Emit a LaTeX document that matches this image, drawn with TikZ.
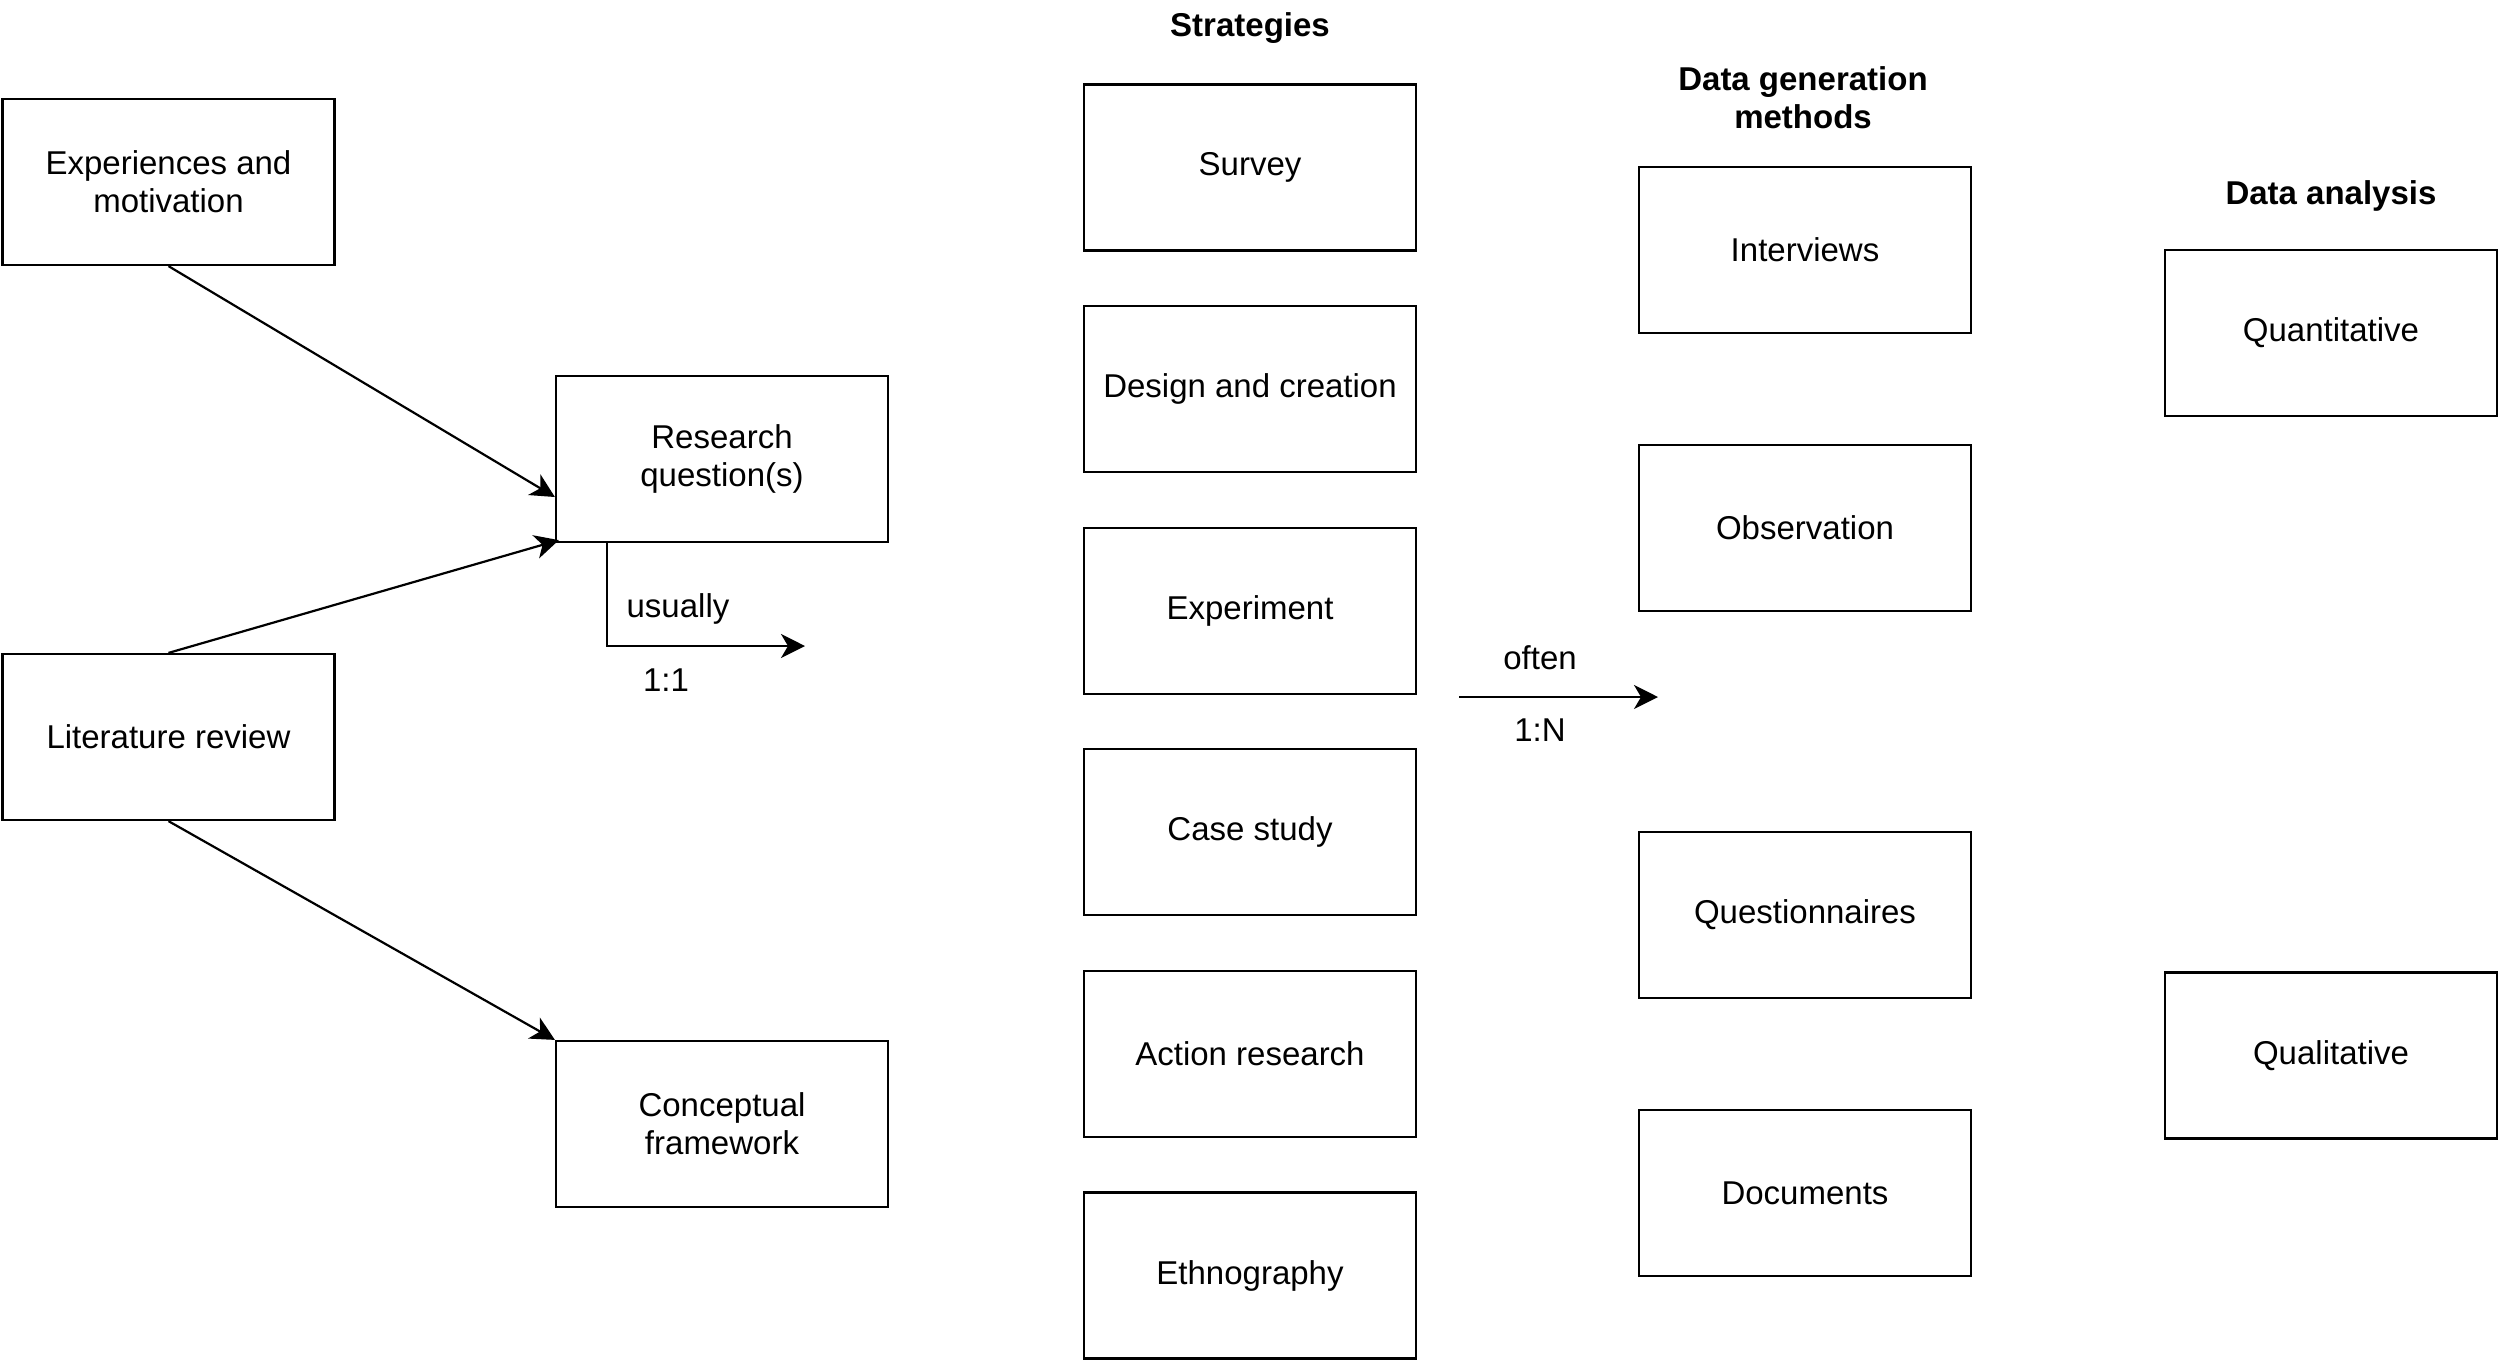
\documentclass[tikz,border=0pt]{standalone}
\usepackage{fontspec}
\setmainfont{Liberation Sans}
\usetikzlibrary{arrows.meta}
\begin{document}
\begin{tikzpicture}[x=0.5pt,y=-0.5pt,
  box/.style={draw,line width=1.1pt,minimum width=166pt,minimum height=83pt,inner sep=0pt,align=center,font=\fontsize{16.5}{19}\selectfont},
  head/.style={align=center,font=\fontsize{16.5}{19}\selectfont\bfseries},
  lbl/.style={font=\fontsize{16.5}{19}\selectfont},
  arr/.style={line width=1.1pt,-{Stealth[length=12pt,width=12pt,inset=3.5pt]}}]
\useasboundingbox (0,0) rectangle (2500,1362);
% left column
\node[box] (exp) at (168.5,182) {Experiences and\\motivation};
\node[box] (lit) at (168.5,737) {Literature review};
\node[box] (rq) at (722,459) {Research\\question(s)};
\node[box] (cf) at (722,1124) {Conceptual\\framework};
% strategies
\node[head] (hs) at (1250,28) {Strategies};
\node[box] (s1) at (1250,167.5) {Survey};
\node[box] (s2) at (1250,389) {Design and creation};
\node[box] (s3) at (1250,611) {Experiment};
\node[box] (s4) at (1250,832) {Case study};
\node[box] (s5) at (1250,1054) {Action research};
\node[box] (s6) at (1250,1275.5) {Ethnography};
% data generation
\node[head] (hd) at (1803,98) {Data generation\\methods};
\node[box] (d1) at (1805,250) {Interviews};
\node[box] (d2) at (1805,528) {Observation};
\node[box] (d3) at (1805,915) {Questionnaires};
\node[box] (d4) at (1805,1193) {Documents};
% data analysis
\node[head] (ha) at (2331,196) {Data analysis};
\node[box] (a1) at (2331,333) {Quantitative};
\node[box] (a2) at (2331,1055.5) {Qualitative};
% connectors
\draw[arr] (exp.south) -- ([yshift=-19pt]rq.west);
\draw[arr] (lit.north) -- ([xshift=2pt,yshift=1.5pt]rq.south west);
\draw[arr] (lit.south) -- (cf.north west);
\coordinate (uend) at (805,646);
\draw[arr] ([xshift=-57.5pt]rq.south) |- (uend);
\node[lbl] (usually) at (678,609) {usually};
\node[lbl] (one1) at (666,680) {1:1};
\coordinate (os) at (1459,697);
\coordinate (oe) at (1658,697);
\draw[arr] (os) -- (oe);
\node[lbl] (often) at (1540,658) {often};
\node[lbl] (oneN) at (1540,730) {1:N};
\end{tikzpicture}
\end{document}
